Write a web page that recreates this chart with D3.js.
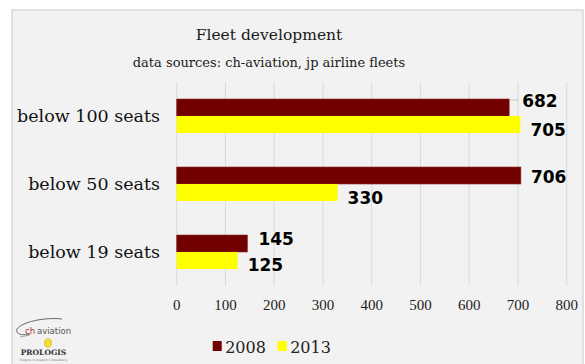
<!DOCTYPE html>
<html><head><meta charset="utf-8">
<script src="https://cdn.jsdelivr.net/npm/d3@7/dist/d3.min.js"></script>
<style>body{margin:0;background:#fff}svg{display:block}</style>
</head><body>
<script>
const categories = ["below 100 seats", "below 50 seats", "below 19 seats"];
const seriesNames = ["2008", "2013"];
const values2008 = [682, 706, 145];
const values2013 = [705, 330, 125];
const tickValues = [0, 100, 200, 300, 400, 500, 600, 700, 800];
const colors = ["#720000", "#ffff00"];

(function () {
const W = 585, H = 364;
const svg = d3.select("body").append("svg").attr("width", W).attr("height", H);

// label nudges (style only), per series per category
const nudge = [[-7, 1, -5], [5, 5, 4]];
const nudgeX = [[13, 10, 11], [10, 10, 10]];

svg.append("rect").attr("x", 12).attr("y", 10).attr("width", 571).attr("height", 360)
  .attr("fill", "#f2f2f2").attr("stroke", "#d9d9d9").attr("stroke-width", 1.5);

const pLeft = 176.7, pRight = 566.7, pTop = 82, pBottom = 286;
const x = d3.scaleLinear().domain([0, 800]).range([pLeft, pRight]);
const y = d3.scaleBand().domain(categories).range([pTop, pBottom]).paddingInner(0.5).paddingOuter(0.25);
const ys = d3.scaleBand().domain(seriesNames).range([0, y.bandwidth()]);

svg.append("g").selectAll("line").data(tickValues).join("line")
  .attr("x1", d => x(d)).attr("x2", d => x(d)).attr("y1", pTop).attr("y2", pBottom)
  .attr("stroke", "#d9d9d9").attr("stroke-width", 1);

svg.append("g").selectAll("text").data(tickValues).join("text")
  .attr("x", d => x(d)).attr("y", 309.5).attr("text-anchor", "middle")
  .attr("font-family", "Liberation Serif").attr("font-size", 15).attr("fill", "#222")
  .text(d => d);

svg.append("g").selectAll("text").data(categories).join("text")
  .attr("x", 160).attr("y", d => y(d) + y.bandwidth() / 2 + 6)
  .attr("text-anchor", "end").attr("font-family", "DejaVu Serif").attr("font-size", 17.5)
  .attr("fill", "#111").text(d => d);

const data = [];
categories.forEach((c, i) => {
  data.push({c, i, s: "2008", v: values2008[i], k: 0});
  data.push({c, i, s: "2013", v: values2013[i], k: 1});
});

svg.append("g").selectAll("rect").data(data).join("rect")
  .attr("x", x(0)).attr("y", d => y(d.c) + ys(d.s))
  .attr("width", d => x(d.v) - x(0)).attr("height", ys.bandwidth())
  .attr("fill", d => colors[d.k])
  .attr("stroke", d => d.k === 0 ? "#8a2a2a" : "none").attr("stroke-width", 0.6);

const d0 = data[0];
svg.append("path")
  .attr("d", `M${x(d0.v) + 1},${y(d0.c) + ys(d0.s) + 1} L${x(d0.v) + 1},${y(d0.c) + 1} L${x(d0.v) + 9},${y(d0.c) + 1}`)
  .attr("fill", "none").attr("stroke", "#bbb").attr("stroke-width", 0.8);

svg.append("g").selectAll("text").data(data).join("text")
  .attr("x", d => x(d.v) + nudgeX[d.k][d.i])
  .attr("y", d => y(d.c) + ys(d.s) + ys.bandwidth() / 2 + 6 + nudge[d.k][d.i])
  .attr("font-family", "DejaVu Sans").attr("font-weight", "bold").attr("font-size", 17)
  .attr("fill", "#000").text(d => d.v);

svg.append("text").attr("x", 269).attr("y", 39.5).attr("text-anchor", "middle")
  .attr("font-family", "DejaVu Serif").attr("font-size", 15.5).attr("fill", "#1a1a1a").text("Fleet development");
svg.append("text").attr("x", 269).attr("y", 66.5).attr("text-anchor", "middle")
  .attr("font-family", "DejaVu Serif").attr("font-size", 13).attr("fill", "#1a1a1a")
  .text("data sources: ch-aviation, jp airline fleets");

const lg = svg.append("g");
[ [212.7, 0], [277.7, 1] ].forEach(([lx, k]) => {
  lg.append("rect").attr("x", lx).attr("y", 341).attr("width", 9).attr("height", 10).attr("fill", colors[k]);
  lg.append("text").attr("x", lx + 12.5).attr("y", 352.5).attr("font-family", "DejaVu Serif")
    .attr("font-size", 16).attr("fill", "#222").text(seriesNames[k]);
});

const logo = svg.append("g");
logo.append("path").attr("d", "M62,319 C44,317 22,322 17,329 C15,334 22,336 30,334")
  .attr("fill", "none").attr("stroke", "#666").attr("stroke-width", 1);
logo.append("path").attr("d", "M20,337 L30,335").attr("stroke", "#888").attr("stroke-width", 0.7);
logo.append("text").attr("x", 25).attr("y", 334).attr("font-family", "DejaVu Sans").attr("font-size", 8.5)
  .attr("fill", "#a33").text("ch");
logo.append("text").attr("x", 37).attr("y", 334).attr("font-family", "DejaVu Sans").attr("font-size", 8.5)
  .attr("fill", "#555").text("aviation");
logo.append("ellipse").attr("cx", 48).attr("cy", 343).attr("rx", 3.5).attr("ry", 4.2).attr("fill", "#f5e12a").attr("stroke", "#b9a000").attr("stroke-width", 0.5);
logo.append("text").attr("x", 43.5).attr("y", 355).attr("text-anchor", "middle").attr("font-family", "DejaVu Serif")
  .attr("font-weight", "bold").attr("font-size", 7.5).attr("fill", "#333").text("PROLOGIS");
logo.append("text").attr("x", 43.5).attr("y", 360.5).attr("text-anchor", "middle").attr("font-family", "DejaVu Sans")
  .attr("font-size", 3).attr("fill", "#777").text("Experts in Aviation Consultancy");
})();
</script>
</body></html>
